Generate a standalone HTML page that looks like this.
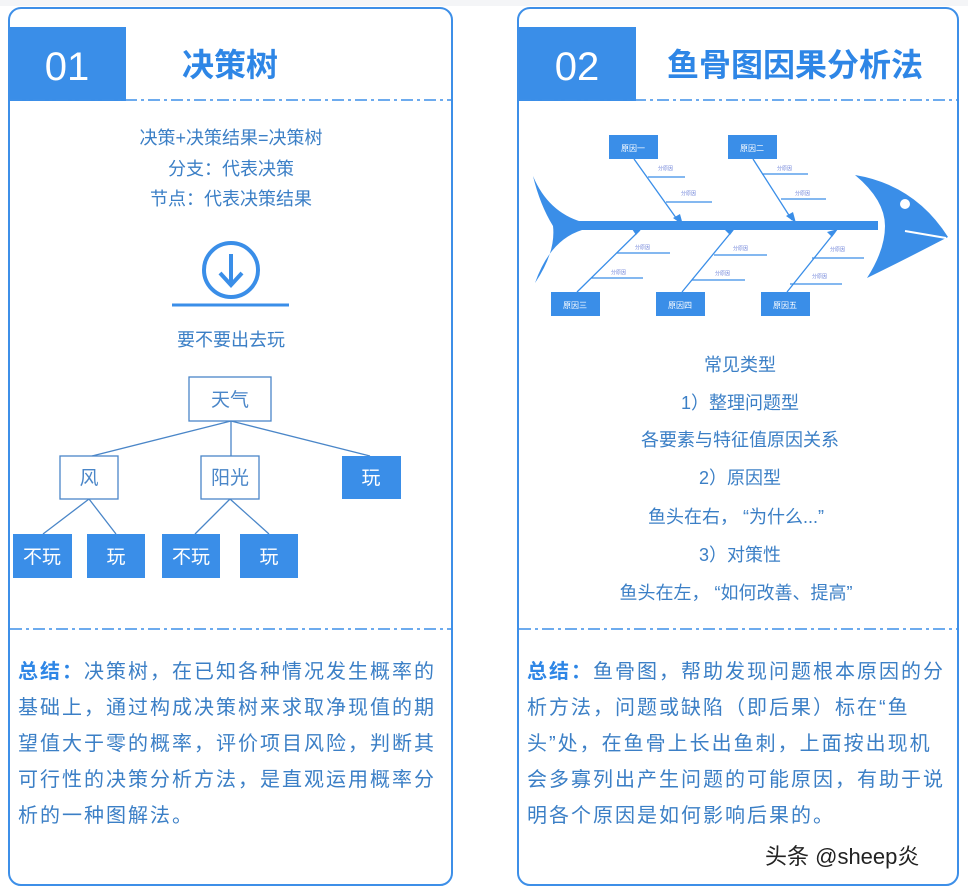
<!DOCTYPE html>
<html><head><meta charset="utf-8"><style>
html,body{margin:0;padding:0;background:#fff;width:968px;height:891px;overflow:hidden}
svg{position:absolute;left:0;top:0}
.t{font-family:"Liberation Sans","Noto Sans CJK SC",sans-serif}
.sum{position:absolute;font-family:"Liberation Sans","Noto Sans CJK SC",sans-serif;font-size:20px;line-height:36px;color:#3b7fc6;letter-spacing:2px;white-space:nowrap}
.sum b{color:#2e86e6}
</style></head><body>
<svg width="968" height="891" viewBox="0 0 968 891" class="t">
<rect x="0" y="0" width="968" height="6" fill="#f4f5f7"/>
<rect x="9" y="8" width="443" height="877" rx="12" fill="#fff" stroke="#3d8fe8" stroke-width="2"/>
<rect x="518" y="8" width="440" height="877" rx="12" fill="#fff" stroke="#3d8fe8" stroke-width="2"/>
<rect x="10" y="27" width="116" height="74" fill="#3a8ee8"/>
<rect x="519" y="27" width="117" height="74" fill="#3a8ee8"/>
<text x="67" y="80" font-size="40" fill="#fff" text-anchor="middle">01</text>
<text x="577" y="80" font-size="40" fill="#fff" text-anchor="middle">02</text>
<text x="230" y="76" font-size="32" font-weight="bold" fill="#2e86e6" text-anchor="middle">决策树</text>
<text x="795" y="76" font-size="32" font-weight="bold" fill="#2e86e6" text-anchor="middle">鱼骨图因果分析法</text>
<g stroke="#3d8fe8" stroke-width="1.5" stroke-dasharray="12,4,3,4">
<line x1="10" y1="100" x2="451" y2="100"/><line x1="519" y1="100" x2="957" y2="100"/>
<line x1="10" y1="629" x2="451" y2="629"/><line x1="519" y1="629" x2="957" y2="629"/>
</g>
<g font-size="18" fill="#3b7fc6" text-anchor="middle">
<text x="231" y="144">决策+决策结果=决策树</text>
<text x="231" y="175">分支：代表决策</text>
<text x="231" y="205">节点：代表决策结果</text>
<text x="231" y="346">要不要出去玩</text>
</g>
<circle cx="231" cy="270" r="27" fill="none" stroke="#3a8ee8" stroke-width="4"/>
<line x1="231" y1="254" x2="231" y2="283" stroke="#3a8ee8" stroke-width="4"/>
<polyline points="220,273 231,285 242,273" fill="none" stroke="#3a8ee8" stroke-width="4"/>
<line x1="172" y1="305" x2="289" y2="305" stroke="#3a8ee8" stroke-width="3"/>
<g stroke="#4a86c8" stroke-width="1.3" fill="none">
<line x1="231" y1="421" x2="92" y2="456"/><line x1="231" y1="421" x2="231" y2="456"/><line x1="231" y1="421" x2="370" y2="456"/>
<line x1="89" y1="499" x2="43" y2="534"/><line x1="89" y1="499" x2="116" y2="534"/>
<line x1="230" y1="499" x2="195" y2="534"/><line x1="230" y1="499" x2="269" y2="534"/>
<rect x="189" y="377" width="82" height="44"/>
<rect x="60" y="456" width="58" height="43"/>
<rect x="201" y="456" width="58" height="43"/>
</g>
<g fill="#3a8ee8">
<rect x="342" y="456" width="59" height="43"/>
<rect x="13" y="534" width="59" height="44"/><rect x="87" y="534" width="58" height="44"/>
<rect x="162" y="534" width="58" height="44"/><rect x="240" y="534" width="58" height="44"/>
</g>
<g font-size="19" text-anchor="middle">
<text x="230" y="406" fill="#4a86c8">天气</text>
<text x="89" y="484" fill="#4a86c8">风</text>
<text x="230" y="484" fill="#4a86c8">阳光</text>
<text x="371" y="484" fill="#fff">玩</text>
<text x="42" y="563" fill="#fff">不玩</text>
<text x="116" y="563" fill="#fff">玩</text>
<text x="191" y="563" fill="#fff">不玩</text>
<text x="269" y="563" fill="#fff">玩</text>
</g>
<g fill="#3a8ee8">
<path d="M533,176 Q548,212 582,222 L582,230 Q550,240 535,283 Q556,252 553,226 Q540,205 533,176Z"/>
<rect x="578" y="221" width="300" height="9"/>
<path d="M855,175 Q915,185 948,237 Q900,262 867,278 Q885,250 885,226 Q885,200 855,175Z"/>
</g>
<circle cx="905" cy="204" r="5" fill="#fff"/>
<line x1="905" y1="231" x2="946" y2="238" stroke="#fff" stroke-width="2"/>
<g stroke="#3a8ee8" stroke-width="1.3">
<line x1="634" y1="159" x2="679" y2="222"/><line x1="753" y1="159" x2="792" y2="220"/>
<line x1="577" y1="292" x2="640" y2="230"/><line x1="682" y1="292" x2="733" y2="230"/><line x1="787" y1="292" x2="835" y2="232"/>
<line x1="648" y1="177" x2="685" y2="177"/><line x1="666" y1="202" x2="712" y2="202"/>
<line x1="762" y1="174" x2="808" y2="174"/><line x1="781" y1="199" x2="826" y2="199"/>
<line x1="617" y1="253" x2="670" y2="253"/><line x1="591" y1="278" x2="643" y2="278"/>
<line x1="714" y1="255" x2="767" y2="255"/><line x1="692" y1="280" x2="745" y2="280"/>
<line x1="812" y1="258" x2="864" y2="258"/><line x1="790" y1="284" x2="842" y2="284"/>
</g>
<g fill="#3a8ee8">
<polygon points="683,225 673,218 680,214"/><polygon points="796,223 786,216 793,212"/>
<polygon points="643,227 636,235 632,229"/><polygon points="736,227 730,235 725,230"/><polygon points="838,229 832,237 827,232"/>
<rect x="609" y="135" width="49" height="24"/><rect x="728" y="135" width="49" height="24"/>
<rect x="551" y="292" width="49" height="24"/><rect x="656" y="292" width="49" height="24"/><rect x="761" y="292" width="49" height="24"/>
</g>
<g font-size="8" fill="#fff" text-anchor="middle">
<text x="633" y="151">原因一</text><text x="752" y="151">原因二</text>
<text x="575" y="308">原因三</text><text x="680" y="308">原因四</text><text x="785" y="308">原因五</text>
</g>
<g font-size="5" fill="#6a7fd8">
<text x="658" y="170">分原因</text><text x="681" y="195">分原因</text>
<text x="777" y="170">分原因</text><text x="795" y="195">分原因</text>
<text x="635" y="249">分原因</text><text x="611" y="274">分原因</text>
<text x="733" y="250">分原因</text><text x="715" y="275">分原因</text>
<text x="830" y="251">分原因</text><text x="812" y="278">分原因</text>
</g>
<g font-size="18" fill="#3b7fc6" text-anchor="middle">
<text x="740" y="371">常见类型</text>
<text x="740" y="409">1）整理问题型</text>
<text x="740" y="446">各要素与特征值原因关系</text>
<text x="740" y="484">2）原因型</text>
<text x="736" y="523">鱼头在右，  “为什么...”</text>
<text x="740" y="561">3）对策性</text>
<text x="736" y="599">鱼头在左，  “如何改善、提高”</text>
</g>
<text x="765" y="864" font-size="22" fill="#222">头条 @sheep炎</text>
</svg>
<div class="sum" style="left:18px;top:654px"><b>总结：</b>决策树，在已知各种情况发生概率的<br>基础上，通过构成决策树来求取净现值的期<br>望值大于零的概率，评价项目风险，判断其<br>可行性的决策分析方法，是直观运用概率分<br>析的一种图解法。</div>
<div class="sum" style="left:527px;top:654px"><b>总结：</b>鱼骨图，帮助发现问题根本原因的分<br>析方法，问题或缺陷（即后果）标在“鱼<br>头”处，在鱼骨上长出鱼刺，上面按出现机<br>会多寡列出产生问题的可能原因，有助于说<br>明各个原因是如何影响后果的。</div>
</body></html>
